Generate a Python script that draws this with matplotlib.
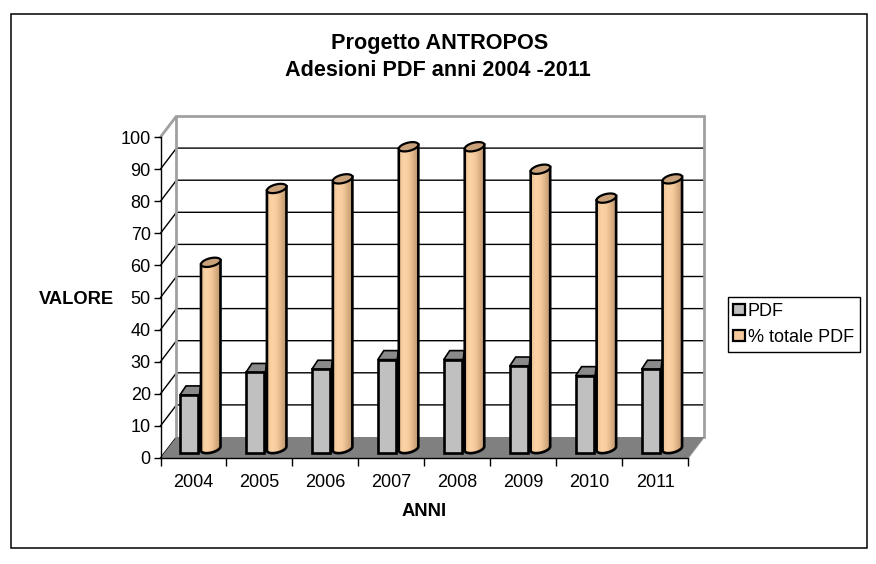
import numpy as np
import matplotlib
matplotlib.use("Agg")
import matplotlib.pyplot as plt
from matplotlib.patches import Polygon, Patch, Rectangle
from matplotlib.colors import LinearSegmentedColormap

W, H = 876, 564
years = ["2004", "2005", "2006", "2007", "2008", "2009", "2010", "2011"]
pdf_values = [18, 25, 26, 29, 29, 27, 24, 26]
pct_values = [58, 81, 84, 94, 94, 87, 78, 84]

plt.rcParams['font.family'] = ['Liberation Sans', 'DejaVu Sans']
fig = plt.figure(figsize=(W / 100, H / 100), dpi=100, facecolor='white')
fig.add_artist(Rectangle((11 / W, 1 - 547.5 / H), 855.5 / W, 534 / H, transform=fig.transFigure,
                         fill=False, edgecolor='black', lw=1.1))

L, R, T, B = 160.5, 688, 137, 458
ax = fig.add_axes([L / W, 1 - B / H, (R - L) / W, (B - T) / H])
ax.patch.set_visible(False)
PX = 8 / (R - L)          # categories per pixel
PY = 100 / (B - T)        # value units per pixel
dx, dy = 16 * PX, 21 * PY  # depth of the box

GRAY = '#a0a0a0'
# walls and floor
ax.add_patch(Polygon([(0, 0), (8, 0), (8 + dx, dy), (dx, dy)], closed=True, facecolor='#808080',
                     edgecolor='none', zorder=2, clip_on=False))
for v in range(10, 100, 10):
    ax.plot([0, dx, 8 + dx], [v, v + dy, v + dy], color='black', lw=1.0, zorder=1, clip_on=False,
            solid_joinstyle='miter')
ax.plot([0, dx], [0, dy], color='black', lw=1.0, zorder=1, clip_on=False)
ax.plot([0, dx, dx], [100, 100 + dy, dy], color=GRAY, lw=2.0, zorder=1.5, clip_on=False, solid_joinstyle='miter')
ax.plot([dx, 8 + dx, 8 + dx], [100 + dy, 100 + dy, dy], color=GRAY, lw=2.0, zorder=1.5, clip_on=False,
        solid_joinstyle='miter')
ax.plot([8, 8 + dx], [0, dy], color=GRAY, lw=1.2, zorder=1.5, clip_on=False)

cmap = LinearSegmentedColormap.from_list('c', ['#f0c595', '#fbd3a6', '#f6cb9c', '#d9ae82', '#b8946e'])
grad = np.linspace(0, 1, 64).reshape(1, -1)

bar_x, bar_w = 19.5 * PX, 18 * PX
bar_base = 5.3 * PY
roof_dy = 9 * PY
cyl_x, cyl_w = 40.5 * PX, 19.5 * PX
cyl_base = 9.5 * PY
ell_b, ell_shear = 4.2 * PY, 2.0 * PY

z = 3
for i in range(len(years)):
    # square prism
    x0, x1 = i + bar_x, i + bar_x + bar_w
    y0, y1 = bar_base, bar_base + pdf_values[i]
    ax.add_patch(Polygon([(x0, y1), (x0 + 6 * PX, y1 + roof_dy), (x1 + 2.5 * PX, y1 + roof_dy), (x1 + 1.5 * PX, y1)],
                         closed=True, facecolor='#8a8a8a', edgecolor='black', lw=1.2, zorder=z, clip_on=False))
    ax.add_patch(Polygon([(x1, y0), (x1 + 1.5 * PX, y0 + 0.5), (x1 + 1.5 * PX, y1), (x1, y1)], closed=True,
                         facecolor='#707070', edgecolor='black', lw=1.2, zorder=z, clip_on=False))
    ax.bar(x0, pdf_values[i], bottom=y0, width=bar_w, align='edge', facecolor='#c0c0c0', edgecolor='black',
           lw=1.9, zorder=z + 0.1, clip_on=False)
    # cylinder
    cx = i + cyl_x + cyl_w / 2
    a = cyl_w / 2
    t = np.linspace(0, 2 * np.pi, 81)
    ex, ey = a * np.cos(t), ell_b * np.sin(t) + ell_shear * np.cos(t)
    low = np.linspace(np.pi, 2 * np.pi, 41)
    bx = cx + a * np.cos(low)
    by = cyl_base + ell_b * np.sin(low) + ell_shear * np.cos(low)
    top = cyl_base + pct_values[i]
    body = np.column_stack([np.r_[bx, cx + a, cx - a], np.r_[by, top + ell_shear, top - ell_shear]])
    outline = Polygon(body, closed=True, facecolor='none', edgecolor='black', lw=1.9, zorder=z + 0.3, clip_on=False)
    ax.add_patch(outline)
    im = ax.imshow(grad, cmap=cmap, extent=(cx - a, cx + a, 0, top + 3), aspect='auto', zorder=z + 0.2,
                   interpolation='bilinear')
    im.set_clip_path(Polygon(body, closed=True, transform=ax.transData))
    ax.add_patch(Polygon(np.column_stack([cx + ex, top + ey]), closed=True, facecolor='#c9a27c', edgecolor='black',
                         lw=1.6, zorder=z + 0.4, clip_on=False))
    z += 1

ax.set_xlim(0, 8)
ax.set_ylim(0, 100)
for s in ('top', 'right'):
    ax.spines[s].set_visible(False)
for s in ('left', 'bottom'):
    ax.spines[s].set_linewidth(1.0)
    ax.spines[s].set_zorder(50)
ax.set_yticks(range(0, 101, 10))
ax.set_xticks(range(9))
ax.set_xticks(np.arange(8) + 0.5, minor=True)
ax.set_xticklabels([])
ax.set_xticklabels(years, minor=True)
ax.tick_params(axis='x', which='minor', length=0, labelsize=13, pad=11.5)
ax.tick_params(axis='x', which='major', length=6, width=1.0)
ax.tick_params(axis='y', length=5, width=1.0, labelsize=13, pad=2)

fig.text(439.5 / W, 1 - 43 / H, "Progetto ANTROPOS", ha='center', va='center', fontsize=15.6, fontweight='bold')
fig.text(438 / W, 1 - 71 / H, "Adesioni PDF anni 2004 -2011", ha='center', va='center', fontsize=15.6, fontweight='bold')
fig.text(76 / W, 1 - 299.5 / H, "VALORE", ha='center', va='center', fontsize=13.2, fontweight='bold')
fig.text(424.5 / W, 1 - 511 / H, "ANNI", ha='center', va='center', fontsize=13.2, fontweight='bold')

handles = [Patch(facecolor='#c0c0c0', edgecolor='black', lw=1.6, label='PDF'),
           Patch(facecolor='#f5c99b', edgecolor='black', lw=1.6, label='% totale PDF')]
leg = fig.legend(handles=handles, loc='upper left', bbox_to_anchor=(727.5 / W, 1 - 297 / H), frameon=True,
                 fancybox=False, framealpha=1, edgecolor='black', fontsize=13, borderaxespad=0,
                 handlelength=0.62, handleheight=0.62, handletextpad=0.18, labelspacing=0.5,
                 borderpad=0.33)
leg.get_frame().set_linewidth(1.0)

fig.savefig('out.png', dpi=100, facecolor='white')
